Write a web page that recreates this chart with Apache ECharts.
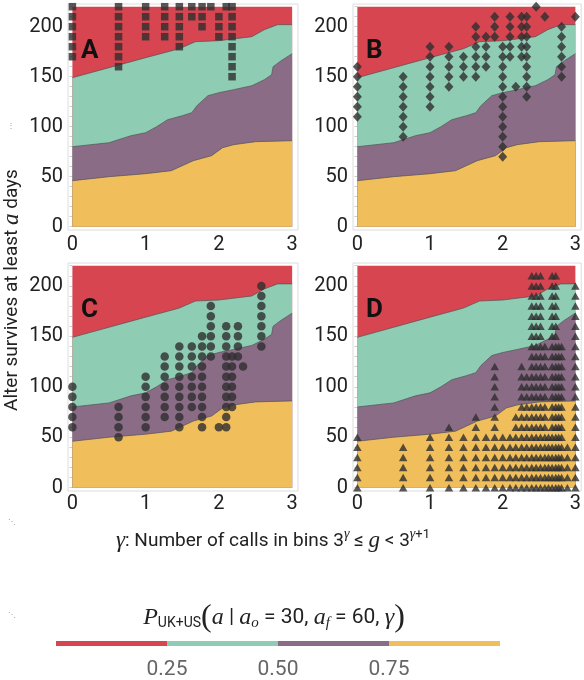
<!DOCTYPE html>
<html lang="en">
<head>
<meta charset="UTF-8">
<title>Alter survival vs. call bins</title>
<script src="https://cdn.jsdelivr.net/npm/echarts@6.0.0/dist/echarts.min.js"></script>
<style>
    html, body { margin: 0; padding: 0; background: #fff; }
    #chart { width: 584px; height: 680px; }
</style>
</head>
<body>
<div id="chart"></div>
<script>
// ---- band edges (days), identical in the four panels ----
var edgeYellowX = [0, 0.5, 1.0, 1.35, 1.5, 1.65, 1.9, 2.05, 2.2, 2.5, 3];
var edgeYellowY = [46, 50, 53, 56, 61, 66, 71, 79, 82, 85, 86];
var edgePurpleX = [0, 0.5, 0.8, 1.0, 1.15, 1.3, 1.5, 1.63, 1.7, 1.85, 2.0, 2.2, 2.45, 2.62, 2.72, 2.74, 2.85, 3];
var edgePurpleY = [80, 84, 91, 94, 100, 107, 111, 114, 121, 131, 134, 137, 141, 147, 152, 160, 166, 173];
var edgeTealX = [0, 1, 1.46, 1.68, 2.0, 2.45, 2.62, 2.8, 3];
var edgeTealY = [149, 169, 178, 185, 186, 190, 197, 202, 202];
var edgeTopX = [0, 3];
var edgeTopY = [220, 220];

// ---- markers: one column per gamma, a marker every 10 days from lo to hi ----
var colAX  = [0, 0.63, 1, 1.26, 1.46, 1.63, 1.77, 1.89, 2, 2.1, 2.18];
var colALo = [170, 160, 190, 190, 180, 210, 200, 220, 190, 220, 150];
var colAHi = [220, 220, 220, 220, 220, 220, 220, 220, 210, 220, 220];

var colBX  = [0, 0.63, 1, 1.26, 1.46, 1.63, 1.77, 1.89, 2, 2.1, 2.18, 2.26, 2.33, 2.46, 2.58, 2.81, 3];
var colBLo = [110, 90, 120, 140, 150, 150, 160, 190, 70, 170, 140, 170, 130, 220, 210, 150, 210];
var colBHi = [160, 150, 180, 180, 170, 200, 190, 210, 180, 210, 140, 210, 210, 220, 210, 200, 210];

var colCX  = [0, 0.63, 1, 1.26, 1.46, 1.63, 1.77, 1.89, 2, 2.1, 2.18, 2.26, 2.33, 2.58];
var colCLo = [60, 50, 60, 70, 60, 80, 60, 130, 60, 60, 80, 130, 120, 140];
var colCHi = [100, 80, 110, 130, 140, 140, 150, 180, 60, 160, 130, 160, 120, 200];

var colDX  = [0, 0.63, 1, 1.26, 1.46, 1.63, 1.77, 1.89, 2, 2.1, 2.18, 2.26, 2.33, 2.4, 2.46, 2.52, 2.58, 2.63, 2.68, 2.73, 2.77, 2.81, 2.89, 3];
var colDLo = [0, 0, 0, 0, 0, 0, 0, 0, 0, 0, 0, 0, 0, 0, 0, 0, 0, 0, 0, 0, 0, 0, 0, 0];
var colDHi = [50, 40, 50, 60, 50, 70, 50, 120, 50, 50, 70, 120, 110, 210, 210, 210, 140, 50, 210, 210, 140, 140, 40, 200];

// ---- ticks and colour bar ----
var tickX = [0, 1, 2, 3];
var tickY = [0, 50, 100, 150, 200];
var minorY = [0, 10, 20, 30, 40, 50, 60, 70, 80, 90, 100, 110, 120, 130, 140, 150, 160, 170, 180, 190, 200, 210, 220];
var barShare = [0.25, 0.25, 0.25, 0.25];
var barTicks = [0.25, 0.5, 0.75];

var panelNames = ['A', 'B', 'C', 'D'];
var bandColors = ['#d64550', '#8fccb4', '#8a6c87', '#f1be5c'];   // red, teal, purple, yellow

function runsToPoints(xs, lo, hi) {
    var pts = [];
    for (var i = 0; i < xs.length; i++) {
        for (var y = lo[i]; y <= hi[i]; y += 10) pts.push([xs[i], y]);
    }
    return pts;
}
function zip(xs, ys) {
    return xs.map(function (x, i) { return [x, ys[i]]; });
}

var markers = [
    { data: runsToPoints(colAX, colALo, colAHi), symbol: 'rect', size: 7.5 },
    { data: runsToPoints(colBX, colBLo, colBHi), symbol: 'diamond', size: [9, 10] },
    { data: runsToPoints(colCX, colCLo, colCHi), symbol: 'circle', size: 8.5 },
    { data: runsToPoints(colDX, colDLo, colDHi), symbol: 'triangle', size: [8.5, 7.5] }
];

var edges = [
    [edgeTopX, edgeTopY, false],
    [edgeTealX, edgeTealY, true],
    [edgePurpleX, edgePurpleY, true],
    [edgeYellowX, edgeYellowY, true]
];

var gridPos = [
    { left: 68, top: 4, width: 230, height: 226 },
    { left: 353, top: 4, width: 230, height: 226 },
    { left: 68, top: 263, width: 230, height: 228 },
    { left: 353, top: 263, width: 230, height: 228 }
];

var grids = [], xAxes = [], yAxes = [], series = [], graphics = [];
var font = 'Roboto';

gridPos.forEach(function (g, p) {
    grids.push({
        left: g.left, top: g.top, width: g.width, height: g.height,
        show: true, borderColor: '#dcdcdc', borderWidth: 1, backgroundColor: '#fff'
    });
    xAxes.push({
        gridIndex: p, type: 'value', min: -0.06, max: 3.08,
        axisLine: { show: false }, splitLine: { show: false }, axisTick: { show: false },
        axisLabel: { customValues: tickX, fontSize: 20, color: '#222', fontFamily: font, margin: p < 2 ? 5 : 3 }
    });
    yAxes.push({
        gridIndex: p, type: 'value', min: -3.3, max: 222.7,
        axisLine: { show: false }, splitLine: { show: false },
        axisTick: { show: true, customValues: minorY, length: 3, lineStyle: { color: '#cfcfcf' } },
        axisLabel: { customValues: tickY, fontSize: 20, color: '#222', fontFamily: font, margin: 5 }
    });

    // bands: each area filled down to 0, drawn from the top band to the bottom one
    edges.forEach(function (e, k) {
        series.push({
            type: 'line', xAxisIndex: p, yAxisIndex: p,
            data: zip(e[0], e[1]), symbol: 'none', silent: true,
            lineStyle: { color: 'rgba(80,80,80,0.85)', width: e[2] ? 0.8 : 0 },
            areaStyle: { color: bandColors[k], opacity: 1, origin: 0 },
            z: 1
        });
    });

    series.push({
        type: 'scatter', xAxisIndex: p, yAxisIndex: p,
        data: markers[p].data, symbol: markers[p].symbol, symbolSize: markers[p].size,
        itemStyle: { color: '#2e2e2e' }, silent: true, z: 3
    });

    graphics.push({
        type: 'text', left: g.left + 13, top: g.top + 34,
        style: { text: panelNames[p], fontSize: 26, fontWeight: 'bold', fontFamily: font, fill: '#111' },
        z: 10
    });
});

// colour bar
grids.push({ left: 56, top: 641, width: 444, height: 11 });
xAxes.push({
    gridIndex: 4, type: 'value', min: 0, max: 1,
    axisLine: { show: false }, splitLine: { show: false }, axisTick: { show: false },
    axisLabel: {
        customValues: barTicks, fontSize: 21, color: '#666', fontFamily: font, margin: 13,
        formatter: function (v) { return v.toFixed(2); }
    }
});
yAxes.push({ gridIndex: 4, type: 'category', data: ['P'], show: false });
barShare.forEach(function (v, k) {
    series.push({
        type: 'bar', xAxisIndex: 4, yAxisIndex: 4, stack: 'cbar',
        data: [v], barWidth: '100%', silent: true,
        itemStyle: { color: bandColors[k] }
    });
});

// y axis title
graphics.push({
    type: 'text', x: 12, y: 290, rotation: Math.PI / 2,
    style: {
        text: 'Alter survives at least {it|a} days',
        fontSize: 19, fontFamily: font, fill: '#222',
        align: 'center', verticalAlign: 'middle', textAlign: 'center', textVerticalAlign: 'middle',
        rich: { it: { fontFamily: 'Liberation Serif', fontStyle: 'italic', fontSize: 23, fill: '#222' } }
    }
});

// x axis title
graphics.push({
    type: 'text', x: 273, y: 541,
    style: {
        text: '{it|γ}: Number of calls in bins 3{sup|γ} ≤ {it|g} < 3{sup|γ}{supn|+1}',
        fontSize: 19, fontFamily: font, fill: '#222',
        align: 'center', verticalAlign: 'middle', textAlign: 'center', textVerticalAlign: 'middle',
        rich: {
            it: { fontFamily: 'Liberation Serif', fontStyle: 'italic', fontSize: 23, fill: '#222' },
            sup: { fontFamily: 'Liberation Serif', fontStyle: 'italic', fontSize: 14, fill: '#222', padding: [0, 0, 13, 0] },
            supn: { fontFamily: font, fontSize: 13, fill: '#222', padding: [0, 0, 13, 0] }
        }
    }
});

// colour bar title
graphics.push({
    type: 'text', x: 274, y: 618,
    style: {
        text: '{P|P}{sub|UK+US}{par|(}{it|a}{n| | }{it|a}{subi|o}{n| = 30, }{it|a}{subi|f}{n| = 60, }{it|γ}{par|)}',
        fontSize: 21, fontFamily: font, fill: '#222',
        align: 'center', verticalAlign: 'middle', textAlign: 'center', textVerticalAlign: 'middle',
        rich: {
            P: { fontFamily: 'Liberation Serif', fontStyle: 'italic', fontSize: 24, fill: '#222' },
            sub: { fontFamily: font, fontSize: 14, fill: '#222', padding: [11, 0, 0, 0] },
            par: { fontFamily: 'Liberation Serif', fontSize: 32, fill: '#222' },
            it: { fontFamily: 'Liberation Serif', fontStyle: 'italic', fontSize: 24, fill: '#222' },
            subi: { fontFamily: 'Liberation Serif', fontStyle: 'italic', fontSize: 15, fill: '#222', padding: [11, 0, 0, 0] },
            n: { fontFamily: font, fontSize: 21, fill: '#222' }
        }
    }
});

// stray dots at the left margin of the original
graphics.push({ type: 'text', x: 7, y: 122, style: { text: '⋮', fontSize: 8, fill: '#999' } });
graphics.push({ type: 'text', x: 8, y: 518, style: { text: '⋱', fontSize: 8, fill: '#999' } });
graphics.push({ type: 'text', x: 8, y: 611, style: { text: '⋱', fontSize: 8, fill: '#999' } });

var chart = echarts.init(document.getElementById('chart'));
chart.setOption({
    animation: false,
    grid: grids,
    xAxis: xAxes,
    yAxis: yAxes,
    series: series,
    graphic: graphics
});
</script>
</body>
</html>
